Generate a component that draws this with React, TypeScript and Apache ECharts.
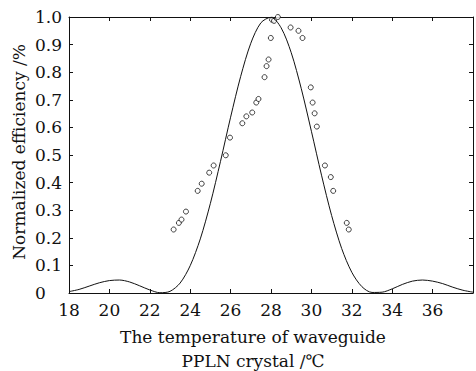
import React, { useEffect, useRef } from "react";
import * as echarts from "echarts";

// Theoretical curve
const curveX = [18, 18.5, 19, 19.5, 20, 20.5, 21, 21.5, 22, 22.5, 23, 23.5, 24, 24.5, 25, 25.5, 26, 26.5, 27, 27.5, 28, 28.5, 29, 29.5, 30, 30.5, 31, 31.5, 32, 32.5, 33, 33.5, 34, 34.5, 35, 35.5, 36, 36.5, 37, 37.5, 38];
const curveY = [0.005, 0.013, 0.025, 0.037, 0.045, 0.047, 0.04, 0.026, 0.011, 0.001, 0.006, 0.036, 0.099, 0.196, 0.325, 0.477, 0.637, 0.785, 0.905, 0.979, 0.999, 0.961, 0.871, 0.74, 0.586, 0.427, 0.281, 0.161, 0.075, 0.023, 0.002, 0.003, 0.015, 0.031, 0.043, 0.047, 0.043, 0.034, 0.021, 0.01, 0.003];

// Measured points
const measX = [23.18, 23.44, 23.57, 23.79, 24.37, 24.57, 24.94, 25.16, 25.76, 25.97, 26.58, 26.78, 27.07, 27.27, 27.38, 27.68, 27.78, 27.88, 27.99, 28.05, 28.15, 28.34, 28.97, 29.36, 29.56, 29.97, 30.06, 30.16, 30.27, 30.67, 30.96, 31.08, 31.75, 31.85];
const measY = [0.23, 0.254, 0.266, 0.295, 0.37, 0.396, 0.436, 0.462, 0.499, 0.563, 0.615, 0.64, 0.654, 0.69, 0.703, 0.782, 0.822, 0.846, 0.924, 0.99, 0.986, 1.0, 0.962, 0.95, 0.924, 0.745, 0.69, 0.651, 0.603, 0.462, 0.42, 0.37, 0.254, 0.23];

const xTitle1 = "The temperature of waveguide";
const xTitle2 = "PPLN crystal /℃";
const yTitle = "Normalized efficiency /%";

const FONT = "DejaVu Serif";
const INK = "#111";

export default function App() {
  const ref = useRef<HTMLDivElement>(null);
  useEffect(() => {
    if (!ref.current) return;
    const chart = echarts.init(ref.current, null, { renderer: "svg" });
    const tickStyle = { inside: true, length: 4, lineStyle: { color: INK, width: 1 } };
    const lineStyle = { lineStyle: { color: INK, width: 1 } };
    const titleStyle = { fontFamily: FONT, fontSize: 17, fill: INK, align: "center", verticalAlign: "middle" };
    chart.setOption({
      animation: false,
      backgroundColor: "#fff",
      grid: { left: 69, right: 1, top: 17, bottom: 78 },
      xAxis: [
        {
          type: "value", min: 18, max: 38, interval: 2, position: "bottom",
          axisLine: { show: true, onZero: false, ...lineStyle },
          axisTick: tickStyle,
          splitLine: { show: false },
          axisLabel: {
            fontFamily: FONT, fontSize: 17, color: INK, margin: 8,
            formatter: (v: number) => (v === 38 ? "" : String(v)),
          },
        },
        {
          type: "value", min: 18, max: 38, interval: 2, position: "top",
          axisLine: { show: true, onZero: false, ...lineStyle },
          axisTick: tickStyle,
          splitLine: { show: false },
          axisLabel: { show: false },
        },
      ],
      yAxis: [
        {
          type: "value", min: 0, max: 1, interval: 0.1, position: "left",
          axisLine: { show: true, onZero: false, ...lineStyle },
          axisTick: tickStyle,
          splitLine: { show: false },
          axisLabel: {
            fontFamily: FONT, fontSize: 17, color: INK, margin: 34, align: "left",
            formatter: (v: number) => (v === 0 ? "0" : v.toFixed(1)),
          },
        },
        {
          type: "value", min: 0, max: 1, interval: 0.1, position: "right",
          axisLine: { show: true, onZero: false, ...lineStyle },
          axisTick: tickStyle,
          splitLine: { show: false },
          axisLabel: { show: false },
        },
      ],
      series: [
        {
          type: "line",
          data: curveX.map((x, i) => [x, curveY[i]]),
          smooth: 0.3,
          showSymbol: false,
          lineStyle: { color: INK, width: 1 },
          clip: true,
        },
        {
          type: "scatter",
          data: measX.map((x, i) => [x, measY[i]]),
          symbol: "circle",
          symbolSize: 5,
          itemStyle: { color: "#fff", borderColor: INK, borderWidth: 1 },
        },
      ],
      graphic: [
        { type: "text", x: 253, y: 337, style: { text: xTitle1, ...titleStyle } },
        { type: "text", x: 253, y: 361, style: { text: xTitle2, ...titleStyle } },
        { type: "text", x: 19, y: 152, rotation: Math.PI / 2, style: { text: yTitle, ...titleStyle } },
      ],
    });
    return () => chart.dispose();
  }, []);
  return <div ref={ref} style={{ width: 476, height: 371, position: "absolute", left: 0, top: 0 }} />;
}
